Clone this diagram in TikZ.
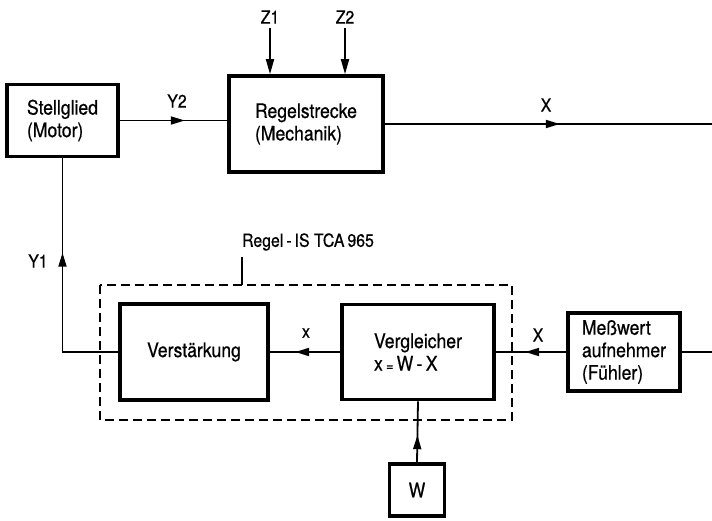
\documentclass[tikz,border=0pt]{standalone}
\usepackage{fontspec}
\setmainfont[FakeStretch=0.88,FakeBold=0.6]{TeX Gyre Heros}
\usetikzlibrary{arrows.meta,decorations.markings}
\tikzset{
  blk/.style={draw, line width=3.6pt, rectangle, align=left, font=\fontsize{20}{22.5}\selectfont, inner sep=0pt},
  con/.style={line width=1.8pt},
  lbl/.style={font=\fontsize{18}{20}\selectfont, inner sep=0pt},
  tipm/.style={postaction={decorate,decoration={markings,mark=at position #1 with {\arrow{Triangle[length=14pt,width=8pt]}}}}},
  endarr/.style={-{Triangle[length=15pt,width=8pt]}}
}
\begin{document}
\begin{tikzpicture}[x=1pt,y=-1pt]
\useasboundingbox (0,0) rectangle (712,520);
% blocks
\node[blk, minimum width=111pt, minimum height=72pt] (st) at (62.5,120.5) {Stellglied\\(Motor)};
\node[blk, minimum width=154pt, minimum height=96pt] (rs) at (306,124) {Regelstrecke\\(Mechanik)};
\node[blk, minimum width=148pt, minimum height=96pt] (vs) at (194,352) {Verstärkung};
\node[blk, minimum width=152pt, minimum height=95pt] (vg) at (418,352) {Vergleicher\\x\,{\fontsize{14}{14}\selectfont =}\,W\,-\,X};
\node[blk, minimum width=112pt, minimum height=78pt] (mw) at (624,352) {Meßwert\\aufnehmer\\(Fühler)};
\node[blk, minimum width=55pt, minimum height=52pt] (w) at (417,490) {W};
% dashed IC frame
\draw[line width=1.3pt, dash pattern=on 9pt off 5pt] (100,285) rectangle (512,420);
\node[lbl] (ic) at (308,242) {Regel\,-\,IS TCA\,965};
\coordinate (icl) at (242,257);
\coordinate (icb) at (242,285);
\draw[line width=1.3pt] (icl) -- (icb);
% disturbances
\node[lbl] (z1) at (270,17) {Z1};
\node[lbl] (z2) at (345,17) {Z2};
\coordinate (z1s) at (270,28);
\coordinate (z2s) at (345,28);
\draw[con, endarr] (z1s) -- (z1s |- rs.north);
\draw[con, endarr] (z2s) -- (z2s |- rs.north);
% Y2
\draw[con, tipm=65pt] (st.east) -- (st.east -| rs.west);
\node[lbl] (y2) at (177,101) {Y2};
% X output
\coordinate (xout) at (712,124);
\draw[con, tipm=175pt] (rs.east) -- (xout);
\node[lbl] (xt) at (546,105) {X};
% Y1
\draw[con, tipm=155pt] (vs.west) -| (st.south);
\node[lbl] (y1) at (38,261) {Y1};
% x
\draw[con, tipm=45pt] (vg.west) -- (vs.east);
\node[lbl] (xs) at (306,333) {x};
% X feedback
\draw[con, tipm=41pt] (mw.west) -- (vg.east);
\node[lbl] (xf) at (538,335) {X};
\coordinate (xin) at (712,352);
\draw[con] (xin) -- (mw.east);
% W
\draw[con, tipm=27pt] (w.north) -- (vg.south);
\end{tikzpicture}
\end{document}
